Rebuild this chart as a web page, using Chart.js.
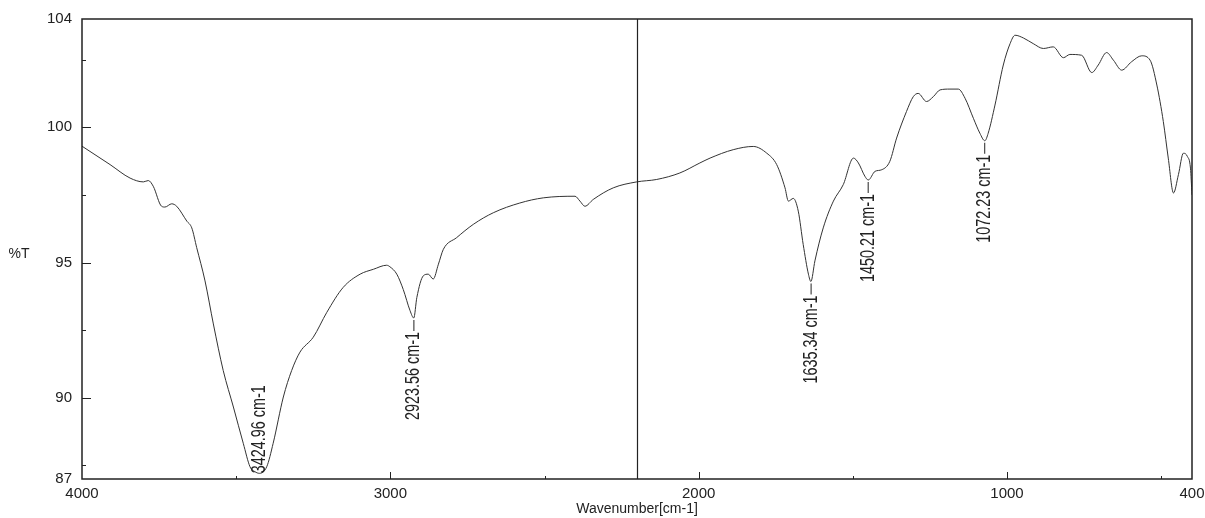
<!DOCTYPE html>
<html>
<head>
<meta charset="utf-8">
<script src="https://cdn.jsdelivr.net/npm/chart.js@4/dist/chart.umd.min.js"></script>
<style>
  body { margin: 0; background: #ffffff; }
  #wrap { width: 1205px; height: 518px; }
</style>
</head>
<body>
<div id="wrap"><canvas id="myChart" width="1205" height="518"></canvas></div>
<script>
/*
  • Data
  ---------- ---------- ---------- ---------- ----------
*/

const wavenumbers = [
  4000, 3909, 3844, 3801, 3785, 3769, 3742, 3731, 3709, 3693,
  3660, 3644, 3628, 3601, 3574, 3542, 3509, 3477, 3455, 3439,
  3425, 3401, 3380, 3347, 3320, 3293, 3250, 3206, 3153, 3098,
  3055, 3012, 3001, 2979, 2958, 2936, 2924, 2914, 2893, 2877,
  2861, 2844, 2828, 2785, 2731, 2666, 2580, 2504, 2401, 2385,
  2369, 2342, 2277, 2201, 2136, 2061, 1996, 1963, 1888, 1823,
  1779, 1747, 1720, 1709, 1693, 1677, 1661, 1644, 1636, 1623,
  1596, 1563, 1531, 1498, 1482, 1461, 1450, 1428, 1406, 1380,
  1358, 1326, 1304, 1288, 1261, 1239, 1217, 1185, 1158, 1136,
  1109, 1088, 1072, 1061, 1039, 1012, 990, 974, 947, 915,
  882, 850, 817, 796, 758, 725, 704, 677, 655, 628,
  596, 563, 536, 514, 493, 477, 460, 444, 428, 415,
  405, 400
];

const transmittance = [
  99.30, 98.62, 98.12, 97.98, 98.03, 97.82, 97.08, 97.05, 97.17, 97.08,
  96.53, 96.28, 95.55, 94.32, 92.73, 91.01, 89.66, 88.32, 87.45, 87.27,
  87.21, 87.45, 88.32, 90.03, 91.01, 91.69, 92.24, 93.16, 94.08, 94.57,
  94.75, 94.90, 94.84, 94.57, 94.00, 93.22, 92.95, 93.71, 94.51, 94.57,
  94.39, 94.94, 95.49, 95.92, 96.41, 96.84, 97.20, 97.39, 97.45, 97.27,
  97.08, 97.33, 97.76, 97.98, 98.07, 98.31, 98.68, 98.86, 99.17, 99.29,
  99.04, 98.62, 97.76, 97.27, 97.37, 96.90, 95.67, 94.57, 94.30, 95.06,
  96.28, 97.27, 97.88, 98.86, 98.68, 98.19, 98.05, 98.37, 98.43, 98.74,
  99.60, 100.58, 101.13, 101.25, 100.95, 101.13, 101.38, 101.41, 101.41, 101.07,
  100.33, 99.78, 99.50, 99.78, 100.82, 102.30, 103.09, 103.40, 103.30, 103.09,
  102.91, 102.97, 102.57, 102.69, 102.66, 102.02, 102.30, 102.76, 102.48, 102.11,
  102.42, 102.64, 102.48, 101.56, 100.21, 98.86, 97.57, 98.25, 99.04, 98.92,
  98.49, 97.50
];

const peakPositions = [3424.96, 2923.56, 1635.34, 1450.21, 1072.23];
const peakValues = [87.21, 92.95, 94.30, 98.05, 99.50];
const peakLabels = ['3424.96 cm-1', '2923.56 cm-1', '1635.34 cm-1', '1450.21 cm-1', '1072.23 cm-1'];

const xTickLabels = [4000, 3000, 2000, 1000, 400];
const xMajorTicks = [3000, 2000, 1000];
const xMinorTicks = [3500, 2500, 1500, 500];
const yTickLabels = [104, 100, 95, 90, 87];
const yMajorTicks = [100, 95, 90];
const yMinorTicks = [102.5, 97.5, 92.5, 87.5];
const markerLine = 2200;

/*
  • Plugins
  ---------- ---------- ---------- ---------- ----------
*/

const INK = '#222222';

const framePlugin = {
  id: 'frame',
  afterDatasetsDraw(chart) {
    const ctx = chart.ctx;
    const a = chart.chartArea;
    const x = chart.scales.x;
    const y = chart.scales.y;

    ctx.save();
    ctx.strokeStyle = INK;
    ctx.lineWidth = 1.5;
    ctx.strokeRect(a.left, a.top, a.right - a.left, a.bottom - a.top);

    // marker line
    const mx = Math.round(x.getPixelForValue(markerLine)) + 0.5;
    ctx.lineWidth = 1.2;
    ctx.beginPath();
    ctx.moveTo(mx, a.top);
    ctx.lineTo(mx, a.bottom);
    ctx.stroke();

    // inward ticks
    ctx.lineWidth = 1;
    ctx.beginPath();
    xMajorTicks.forEach(v => {
      const px = Math.round(x.getPixelForValue(v)) + 0.5;
      ctx.moveTo(px, a.bottom);
      ctx.lineTo(px, a.bottom - 7);
    });
    xMinorTicks.forEach(v => {
      const px = Math.round(x.getPixelForValue(v)) + 0.5;
      ctx.moveTo(px, a.bottom);
      ctx.lineTo(px, a.bottom - 3);
    });
    yMajorTicks.forEach(v => {
      const py = Math.round(y.getPixelForValue(v)) + 0.5;
      ctx.moveTo(a.left, py);
      ctx.lineTo(a.left + 9, py);
    });
    yMinorTicks.forEach(v => {
      const py = Math.round(y.getPixelForValue(v)) + 0.5;
      ctx.moveTo(a.left, py);
      ctx.lineTo(a.left + 4, py);
    });
    ctx.stroke();

    // %T
    ctx.fillStyle = INK;
    ctx.font = '14px "Liberation Sans", Arial, sans-serif';
    ctx.textAlign = 'center';
    ctx.textBaseline = 'middle';
    ctx.fillText('%T', 19, 254);

    // peak labels
    ctx.font = '20px "Liberation Sans", Arial, sans-serif';
    const squeeze = 0.72;
    peakPositions.forEach((wn, i) => {
      const px = x.getPixelForValue(wn);
      const py = y.getPixelForValue(peakValues[i]);
      const len = ctx.measureText(peakLabels[i]).width * squeeze;
      let start;
      if (py + 14 + len > a.bottom) {
        start = py;
      } else {
        ctx.beginPath();
        ctx.moveTo(px, py + 2);
        ctx.lineTo(px, py + 13);
        ctx.stroke();
        start = py + 14 + len;
      }
      ctx.save();
      ctx.translate(px, start);
      ctx.rotate(-Math.PI / 2);
      ctx.scale(squeeze, 1);
      ctx.textAlign = 'left';
      ctx.textBaseline = 'middle';
      ctx.fillText(peakLabels[i], 0, 0);
      ctx.restore();
    });
    ctx.restore();
  }
};

/*
  • Chart
  ---------- ---------- ---------- ---------- ----------
*/

const points = wavenumbers.map((wn, i) => ({x: wn, y: transmittance[i]}));

const ctx = document.getElementById('myChart').getContext('2d');
new Chart(ctx, {
  type: 'line',
  data: {
    datasets: [{
      data: points,
      borderColor: '#333333',
      borderWidth: 1,
      pointRadius: 0,
      cubicInterpolationMode: 'monotone',
      fill: false
    }]
  },
  options: {
    responsive: false,
    animation: false,
    layout: {
      padding: {left: 0, top: 17, right: 0, bottom: 0}
    },
    plugins: {
      legend: {display: false},
      tooltip: {enabled: false}
    },
    scales: {
      x: {
        type: 'linear',
        reverse: true,
        min: 400,
        max: 4000,
        grid: {display: false, drawTicks: false},
        border: {display: false},
        afterBuildTicks: (scale) => {
          scale.ticks = xTickLabels.map(v => ({value: v}));
        },
        afterFit: (scale) => {
          scale.height = 39;
          scale.paddingLeft = 0;
          scale.paddingRight = 13;
        },
        ticks: {
          color: INK,
          padding: 6,
          maxRotation: 0,
          autoSkip: false,
          callback: (v) => String(v),
          font: {family: '"Liberation Sans", Arial, sans-serif', size: 15}
        },
        title: {
          display: true,
          text: 'Wavenumber[cm-1]',
          color: INK,
          padding: {top: 0, bottom: 0},
          font: {family: '"Liberation Sans", Arial, sans-serif', size: 14}
        }
      },
      y: {
        type: 'linear',
        min: 87,
        max: 104,
        grid: {display: false, drawTicks: false},
        border: {display: false},
        afterBuildTicks: (scale) => {
          scale.ticks = yTickLabels.map(v => ({value: v}));
        },
        afterFit: (scale) => {
          scale.width = 82;
        },
        ticks: {
          color: INK,
          padding: 10,
          autoSkip: false,
          callback: (v) => String(v),
          font: {family: '"Liberation Sans", Arial, sans-serif', size: 15}
        }
      }
    }
  },
  plugins: [framePlugin]
});
</script>
</body>
</html>
